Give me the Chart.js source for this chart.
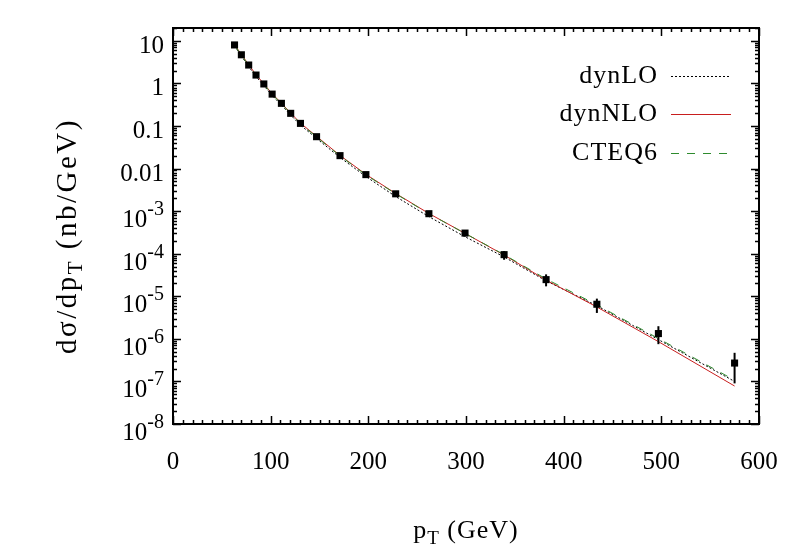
<!DOCTYPE html>
<html>
<head>
<meta charset="utf-8">
<script src="https://cdn.jsdelivr.net/npm/chart.js@4.4.0/dist/chart.umd.min.js"></script>
<style>
    html, body { margin: 0; padding: 0; background: #ffffff; }
    #chart { display: block; }
</style>
</head>
<body>
<canvas id="chart" width="789" height="552"></canvas>
<script>
// pT bins (GeV) of the measured points and the theory curves
const ptBins = [63, 70, 77.5, 85, 93, 101.5, 111, 120.5, 130.5, 147, 171, 197.5, 228, 262, 299, 339, 382, 434, 497, 575];

// measured cross section (nb/GeV) with lower / upper ends of the error bars
const dataValues = [8.0, 4.7, 2.7, 1.57, 0.97, 0.56, 0.34, 0.198, 0.115, 0.056, 0.0201, 0.0072, 0.00255, 8.7e-4, 3.05e-4, 9.5e-5, 2.46e-5, 6.5e-6, 1.33e-6, 2.7e-7];
const errLow  = [7.5, 4.4, 2.5, 1.46, 0.90, 0.52, 0.315, 0.184, 0.107, 0.052, 0.0187, 0.0067, 0.00236, 8.0e-4, 2.55e-4, 7.2e-5, 1.71e-5, 4.06e-6, 7.5e-7, 9.0e-8];
const errHigh = [8.5, 5.0, 2.9, 1.68, 1.04, 0.60, 0.365, 0.212, 0.123, 0.060, 0.0215, 0.0077, 0.00274, 9.4e-4, 3.6e-4, 1.15e-4, 3.27e-5, 8.8e-6, 1.98e-6, 4.7e-7];

// theory curves
const dynLO  = [7.6, 4.4, 2.5, 1.45, 0.89, 0.52, 0.31, 0.18, 0.105, 0.051, 0.0182, 0.0065, 0.0022, 7.4e-4, 2.5e-4, 8.4e-5, 2.3e-5, 6.0e-6, 9.6e-7, 1.0e-7];
const dynNLO = [8.1, 4.8, 2.75, 1.6, 0.98, 0.57, 0.345, 0.2, 0.117, 0.057, 0.0203, 0.0073, 0.0026, 8.8e-4, 3.0e-4, 9.3e-5, 2.4e-5, 5.6e-6, 8.6e-7, 7.8e-8];
const cteq6  = [7.9, 4.65, 2.65, 1.55, 0.95, 0.55, 0.335, 0.195, 0.113, 0.055, 0.0198, 0.0071, 0.00255, 8.7e-4, 3.0e-4, 9.5e-5, 2.55e-5, 6.3e-6, 1.02e-6, 1.07e-7];

// axis ticks
const xTickValues = [0, 100, 200, 300, 400, 500, 600];
const yTickValues = [1e-8, 1e-7, 1e-6, 1e-5, 1e-4, 1e-3, 0.01, 0.1, 1, 10];
const yTickLabels = ['10^-8', '10^-7', '10^-6', '10^-5', '10^-4', '10^-3', '0.01', '0.1', '1', '10'];

const legendNames = ['dynLO', 'dynNLO', 'CTEQ6'];

const FONT = "'Liberation Serif', 'Times New Roman', serif";
const RED = '#c81e1e';
const GREEN = '#2e8b2e';

Chart.defaults.font.family = FONT;
Chart.defaults.font.size = 25;
Chart.defaults.color = '#000000';

function points(values) {
    return ptBins.map((x, i) => ({ x: x, y: values[i] }));
}

// frame with inward ticks on all four sides (gnuplot style)
const framePlugin = {
    id: 'frame',
    afterDraw(chart) {
        const ctx = chart.ctx;
        const a = chart.chartArea;
        const xs = chart.scales.x;
        const ys = chart.scales.y;
        ctx.save();
        ctx.strokeStyle = '#000';
        ctx.lineWidth = 1.5;

        const tick = (px, len, vertical) => {
            ctx.beginPath();
            if (vertical) {
                ctx.moveTo(px, a.bottom); ctx.lineTo(px, a.bottom - len);
                ctx.moveTo(px, a.top); ctx.lineTo(px, a.top + len);
            } else {
                ctx.moveTo(a.left, px); ctx.lineTo(a.left + len, px);
                ctx.moveTo(a.right, px); ctx.lineTo(a.right - len, px);
            }
            ctx.stroke();
        };

        for (let v = 0; v <= 600; v += 10) {
            const major = v % 100 === 0;
            tick(Math.round(xs.getPixelForValue(v)) + 0.5, major ? 8 : 4, true);
        }
        for (let d = -8; d <= 1; d++) {
            for (let k = 1; k <= 9; k++) {
                const v = k * Math.pow(10, d);
                if (v > ys.max) break;
                tick(Math.round(ys.getPixelForValue(v)) + 0.5, k === 1 ? 8 : 4, false);
            }
        }

        ctx.lineWidth = 2;
        ctx.strokeRect(a.left, a.top, a.right - a.left, a.bottom - a.top);
        ctx.restore();
    }
};

// y tick labels, with raised exponents for the powers of ten
const yLabelPlugin = {
    id: 'yLabels',
    afterDraw(chart) {
        const ctx = chart.ctx;
        const ys = chart.scales.y;
        const right = chart.chartArea.left - 9;
        ctx.save();
        ctx.fillStyle = '#000';
        ctx.textAlign = 'right';
        ctx.textBaseline = 'alphabetic';
        ys.ticks.forEach(t => {
            const i = yTickValues.indexOf(t.value);
            if (i < 0) return;
            const py = ys.getPixelForValue(t.value);
            const parts = yTickLabels[i].split('^');
            if (parts.length === 1) {
                ctx.font = '25px ' + FONT;
                ctx.fillText(parts[0], right, py + 12);
            } else {
                ctx.font = '20px ' + FONT;
                const w = ctx.measureText(parts[1]).width;
                ctx.fillText(parts[1], right, py + 4);
                ctx.font = '25px ' + FONT;
                ctx.fillText(parts[0], right - w, py + 16);
            }
        });
        ctx.restore();
    }
};

// vertical error bars on the measured points
const errorBarPlugin = {
    id: 'errorBars',
    afterDatasetsDraw(chart) {
        const ctx = chart.ctx;
        const xs = chart.scales.x;
        const ys = chart.scales.y;
        ctx.save();
        ctx.strokeStyle = '#000';
        ctx.lineWidth = 2;
        ptBins.forEach((x, i) => {
            const px = xs.getPixelForValue(x);
            ctx.beginPath();
            ctx.moveTo(px, ys.getPixelForValue(errLow[i]));
            ctx.lineTo(px, ys.getPixelForValue(errHigh[i]));
            ctx.stroke();
        });
        ctx.restore();
    }
};

// draws "main" followed by a subscript, then "rest", centred on x
function drawSubText(ctx, x, y, main, sub, rest, size, spacing) {
    const big = size + 'px ' + FONT;
    const small = Math.round(size * 0.72) + 'px ' + FONT;
    ctx.letterSpacing = spacing + 'px';
    ctx.font = big;
    const w1 = ctx.measureText(main).width;
    const w3 = ctx.measureText(rest).width;
    ctx.font = small;
    const w2 = ctx.measureText(sub).width;
    let cx = x - (w1 + w2 + w3) / 2;
    ctx.textAlign = 'left';
    ctx.textBaseline = 'alphabetic';
    ctx.font = big;
    ctx.fillText(main, cx, y);
    cx += w1;
    ctx.font = small;
    ctx.fillText(sub, cx, y + 6);
    cx += w2;
    ctx.font = big;
    ctx.fillText(rest, cx, y);
    ctx.letterSpacing = '0px';
}

const titlesPlugin = {
    id: 'titles',
    afterDraw(chart) {
        const ctx = chart.ctx;
        const a = chart.chartArea;
        ctx.save();
        ctx.fillStyle = '#000';
        drawSubText(ctx, (a.left + a.right) / 2, 538, 'p', 'T', ' (GeV)', 26, 1);
        ctx.translate(76, 236);
        ctx.rotate(-Math.PI / 2);
        drawSubText(ctx, 0, 0, 'dσ/dp', 'T', ' (nb/GeV)', 29, 2.5);
        ctx.restore();
    }
};

// legend: names right aligned, line samples to their right
const legendPlugin = {
    id: 'sideLegend',
    afterDraw(chart) {
        const ctx = chart.ctx;
        const rows = [76, 114, 153];
        const styles = [
            { color: '#000', dash: [2, 2] },
            { color: RED, dash: [] },
            { color: GREEN, dash: [8, 8] }
        ];
        ctx.save();
        ctx.font = '26px ' + FONT;
        ctx.letterSpacing = '1px';
        ctx.textAlign = 'right';
        ctx.textBaseline = 'middle';
        ctx.fillStyle = '#000';
        legendNames.forEach((name, i) => {
            ctx.fillText(name, 658, rows[i]);
            ctx.strokeStyle = styles[i].color;
            ctx.lineWidth = 1;
            ctx.setLineDash(styles[i].dash);
            ctx.beginPath();
            ctx.moveTo(671, rows[i] + 0.5);
            ctx.lineTo(731, rows[i] + 0.5);
            ctx.stroke();
        });
        ctx.restore();
    }
};

const ctx = document.getElementById('chart').getContext('2d');
new Chart(ctx, {
    type: 'line',
    data: {
        datasets: [
            {
                label: 'data',
                data: points(dataValues),
                showLine: false,
                pointStyle: 'rect',
                pointRadius: 5,
                pointBackgroundColor: '#000',
                pointBorderWidth: 0,
                order: 0
            },
            {
                label: legendNames[0],
                data: points(dynLO),
                borderColor: '#000',
                borderWidth: 1,
                borderDash: [2, 2],
                pointRadius: 0,
                tension: 0,
                order: 3
            },
            {
                label: legendNames[1],
                data: points(dynNLO),
                borderColor: RED,
                borderWidth: 1,
                pointRadius: 0,
                tension: 0,
                order: 2
            },
            {
                label: legendNames[2],
                data: points(cteq6),
                borderColor: GREEN,
                borderWidth: 1,
                borderDash: [8, 8],
                pointRadius: 0,
                tension: 0,
                order: 1
            }
        ]
    },
    options: {
        responsive: false,
        animation: false,
        devicePixelRatio: 1,
        layout: {
            padding: { top: 28, right: 30, left: 0, bottom: 0 }
        },
        plugins: {
            legend: { display: false },
            tooltip: { enabled: false }
        },
        scales: {
            x: {
                type: 'linear',
                min: 0,
                max: 600,
                grid: { display: false, drawTicks: false },
                border: { display: false },
                afterBuildTicks: scale => {
                    scale.ticks = xTickValues.map(v => ({ value: v }));
                },
                afterFit: scale => {
                    scale.height = 128;
                    scale.paddingLeft = 0;
                    scale.paddingRight = 0;
                },
                ticks: {
                    padding: 23,
                    maxRotation: 0,
                    callback: value => String(value)
                }
            },
            y: {
                type: 'logarithmic',
                min: 1e-8,
                max: 20,
                grid: { display: false, drawTicks: false },
                border: { display: false },
                afterBuildTicks: scale => {
                    scale.ticks = yTickValues.map(v => ({ value: v }));
                },
                afterFit: scale => {
                    scale.width = 173;
                    scale.paddingTop = 0;
                    scale.paddingBottom = 0;
                },
                ticks: { display: false }
            }
        }
    },
    plugins: [errorBarPlugin, framePlugin, yLabelPlugin, titlesPlugin, legendPlugin]
});
</script>
</body>
</html>
